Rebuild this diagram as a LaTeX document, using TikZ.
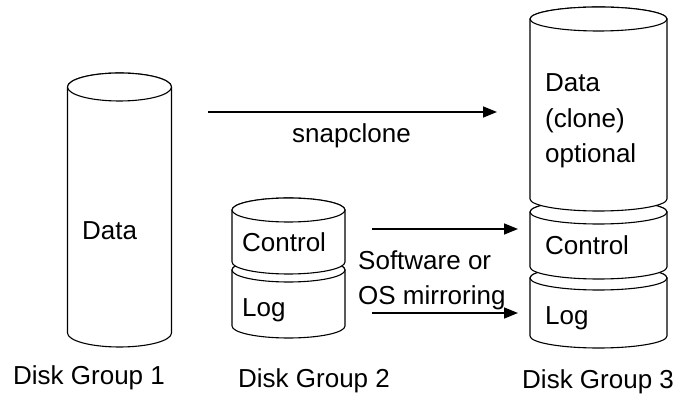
\documentclass[tikz,border=0pt]{standalone}
\usepackage{fontspec}
\setmainfont{Liberation Sans}
\usetikzlibrary{arrows.meta}

\tikzset{
  cyl/.style={draw=black,fill=white,line width=1.1pt},
  lbl/.style={anchor=base west,inner sep=0pt,font=\fontsize{26}{36}\selectfont},
  copyarrow/.style={line width=1.5pt,-{Triangle[length=14pt,width=11pt]}}
}
\newcommand{\cylseg}[5]{%
  \filldraw[cyl] (#1-#4,#2) -- (#1-#4,#3)
    arc[start angle=180,end angle=360,x radius=#4,y radius=#5]
    -- (#1+#4,#2)
    arc[start angle=0,end angle=180,x radius=#4,y radius=#5] -- cycle;
  \draw[cyl] (#1,#2) ellipse[x radius=#4,y radius=#5];}

\begin{document}
\begin{tikzpicture}[x=1pt,y=1pt]
	\useasboundingbox[fill=white] (0,0) rectangle (677,396);

	% disk group 1
	\cylseg{119.5}{309}{63}{52}{14}
	\node[lbl] (dgonedata) at (82,156) {Data};
	\node[lbl] (dgone) at (13,11) {Disk Group 1};

	% disk group 2
	\cylseg{288.5}{126}{70}{56.5}{12}
	\cylseg{288.5}{186}{134}{56.5}{12}
	\node[lbl] (dgtwoctl) at (242,144) {Control};
	\node[lbl] (dgtwolog) at (242,79) {Log};
	\node[lbl] (dgtwo) at (238,9) {Disk Group 2};

	% disk group 3
	\cylseg{598.5}{118}{60}{68.5}{12}
	\cylseg{598.5}{184}{129}{68.5}{12}
	\cylseg{598.5}{377}{197}{68.5}{12}
	\node[lbl] (dgthreedata) at (545,304) {Data};
	\node[lbl] (dgthreeclone) at (545,268) {(clone)};
	\node[lbl] (dgthreeopt) at (545,233) {optional};
	\node[lbl] (dgthreectl) at (545,141) {Control};
	\node[lbl] (dgthreelog) at (545,71) {Log};
	\node[lbl] (dgthree) at (522,7) {Disk Group 3};

	% copies
	\coordinate (snapfrom) at (208,284);
	\coordinate (snapto) at (497,284);
	\coordinate (ctlfrom) at (372,167);
	\coordinate (ctlto) at (518,167);
	\coordinate (logfrom) at (372,83);
	\coordinate (logto) at (518,83);
	\draw[copyarrow] (snapfrom) -- (snapto);
	\draw[copyarrow] (ctlfrom) -- (ctlto);
	\draw[copyarrow] (logfrom) -- (logto);
	\node[lbl] (snap) at (292,253) {snapclone};
	\node[lbl] (mirrorone) at (358,126) {Software or};
	\node[lbl] (mirrortwo) at (358,91) {OS mirroring};
\end{tikzpicture}
\end{document}
